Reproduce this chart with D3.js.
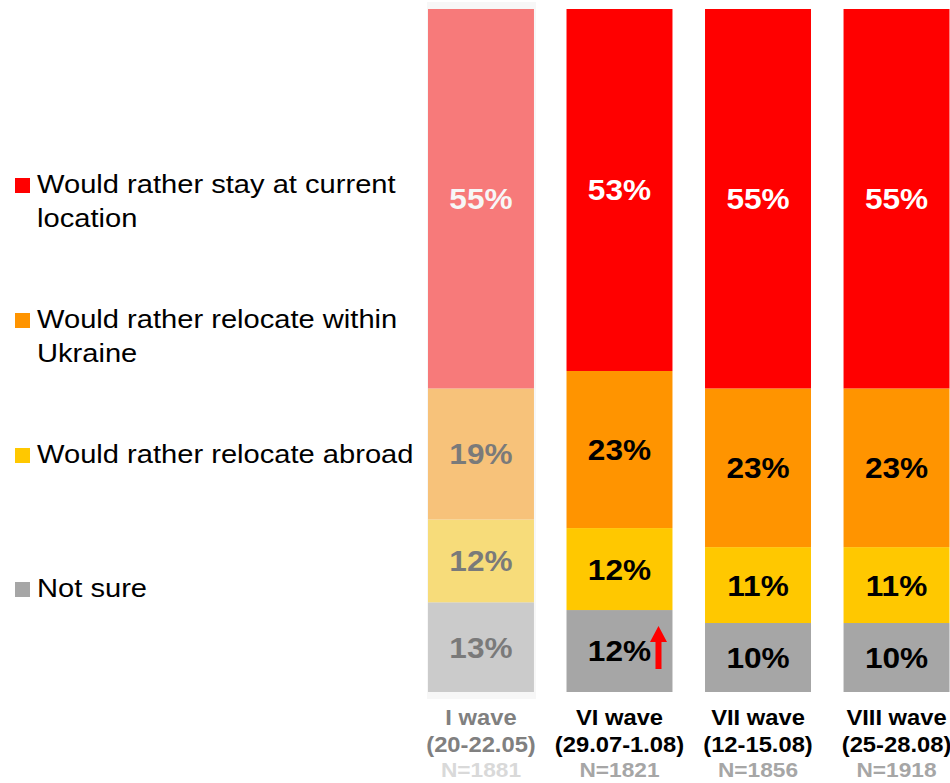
<!DOCTYPE html>
<html>
<head>
<meta charset="utf-8">
<script src="https://cdn.jsdelivr.net/npm/d3@7"></script>
<style>
  html, body { margin: 0; padding: 0; background: #fff; }
  svg { display: block; font-family: Arial, "Liberation Sans", sans-serif; }
</style>
</head>
<body>
<svg id="chart" width="950" height="783"></svg>
<script>
// Survey waves (columns)
const waves = ["I wave", "VI wave", "VII wave", "VIII wave"];
const waveDates = ["(20-22.05)", "(29.07-1.08)", "(12-15.08)", "(25-28.08)"];
const waveN = ["N=1881", "N=1821", "N=1856", "N=1918"];

// Answer options, bottom-to-top stacking order
const answers = ["Not sure", "Would rather relocate abroad", "Would rather relocate within Ukraine", "Would rather stay at current location"];

// Shares per wave, in %
const stayValues     = [55, 53, 55, 55];
const withinValues   = [19, 23, 23, 23];
const abroadValues   = [12, 12, 11, 11];
const notSureValues  = [13, 12, 10, 10];

const colors = {
  "Would rather stay at current location": "#ff0000",
  "Would rather relocate within Ukraine": "#ff9400",
  "Would rather relocate abroad": "#ffc800",
  "Not sure": "#a6a6a6"
};

const rows = waves.map((w, i) => ({
  wave: w,
  "Would rather stay at current location": stayValues[i],
  "Would rather relocate within Ukraine": withinValues[i],
  "Would rather relocate abroad": abroadValues[i],
  "Not sure": notSureValues[i]
}));

const svg = d3.select("#chart");

const x = d3.scaleBand().domain(waves).range([428, 949.5]).paddingInner(0.235).paddingOuter(0);
const y = d3.scaleLinear().domain([0, 1]).range([692, 9]);

// Slightly wide lettering
function wideText(parent, px, py, sx) {
  return parent.append("text")
    .attr("transform", `translate(${px},${py}) scale(${sx},1)`);
}

// 100% stacked: each column normalised to its own total
const stack = d3.stack().keys(answers).offset(d3.stackOffsetExpand);
const series = stack(rows);

const groups = svg.append("g").selectAll("g").data(series).join("g")
  .attr("fill", d => colors[d.key]);

groups.selectAll("rect").data(d => d.map(p => ({ p, key: d.key }))).join("rect")
  .attr("x", d => x(d.p.data.wave))
  .attr("y", d => y(d.p[1]))
  .attr("width", x.bandwidth())
  .attr("height", d => y(d.p[0]) - y(d.p[1]));

// Value labels
const labels = svg.append("g");
series.forEach(s => {
  s.forEach(p => {
    wideText(labels, x(p.data.wave) + x.bandwidth() / 2, (y(p[0]) + y(p[1])) / 2, 1.09)
      .attr("dy", "0.36em")
      .attr("text-anchor", "middle")
      .attr("font-weight", "bold")
      .attr("font-size", 29)
      .attr("fill", s.key === "Would rather stay at current location" ? "#ffffff" : "#000000")
      .text(p.data[s.key] + "%");
  });
});

// Increase marker for "Not sure" in VI wave
const notSure = series.find(s => s.key === "Not sure");
const vi = notSure[1];
const ax = x("VI wave") + x.bandwidth() / 2 + 39;
const aTop = y(vi[1]) + 16;
const aBot = y(vi[0]) - 23;
svg.append("path")
  .attr("d", `M${ax},${aTop} L${ax + 8.5},${aTop + 16} L${ax + 3},${aTop + 16} L${ax + 3},${aBot} L${ax - 3},${aBot} L${ax - 3},${aTop + 16} L${ax - 8.5},${aTop + 16} Z`)
  .attr("fill", "#ff0000");

// Fade veil over the earliest wave
svg.append("rect")
  .attr("x", x("I wave") - 1)
  .attr("y", 2)
  .attr("width", x.bandwidth() + 3)
  .attr("height", 697)
  .attr("fill", "#efefef")
  .attr("opacity", 0.51);

// Category axis labels
const axisG = svg.append("g");
waves.forEach((w, i) => {
  const cx = x(w) + x.bandwidth() / 2;
  const first = i === 0;
  wideText(axisG, cx, 725, 1.08)
    .attr("text-anchor", "middle").attr("font-weight", "bold").attr("font-size", 22)
    .attr("fill", first ? "#808080" : "#000").text(w);
  wideText(axisG, cx, 752, 1.08)
    .attr("text-anchor", "middle").attr("font-weight", "bold").attr("font-size", 22)
    .attr("fill", first ? "#808080" : "#000").text(waveDates[i]);
  wideText(axisG, cx, 777, 1.08)
    .attr("text-anchor", "middle").attr("font-weight", "bold").attr("font-size", 21)
    .attr("fill", first ? "#d9d9d9" : "#a6a6a6").text(waveN[i]);
});

// Legend
const legendItems = [
  { key: "Would rather stay at current location", lines: ["Would rather stay at current", "location"], base: 193 },
  { key: "Would rather relocate within Ukraine", lines: ["Would rather relocate within", "Ukraine"], base: 328 },
  { key: "Would rather relocate abroad", lines: ["Would rather relocate abroad"], base: 463 },
  { key: "Not sure", lines: ["Not sure"], base: 597 }
];
const leg = svg.append("g");
legendItems.forEach(it => {
  leg.append("rect").attr("x", 15).attr("y", it.base - 15).attr("width", 15).attr("height", 15)
    .attr("fill", colors[it.key]);
  it.lines.forEach((ln, j) => {
    wideText(leg, 37, it.base + j * 34, 1.12)
      .attr("font-size", 26).attr("fill", "#000").text(ln);
  });
});
</script>
</body>
</html>
